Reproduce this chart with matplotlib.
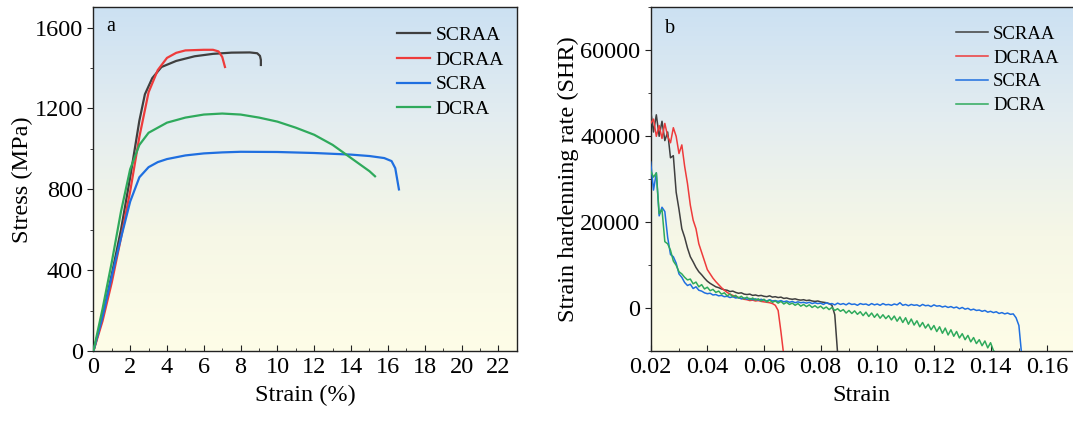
import numpy as np
import matplotlib
matplotlib.use("Agg")
import matplotlib.pyplot as plt
from matplotlib.colors import LinearSegmentedColormap
from matplotlib.ticker import MultipleLocator, AutoMinorLocator, FormatStrFormatter

plt.rcParams["font.family"] = ["Liberation Serif", "DejaVu Serif"]

# ---- panel a: engineering stress-strain curves (strain %, stress MPa) ----
labels = ["SCRAA", "DCRAA", "SCRA", "DCRA"]
colors = ["#3f3f3f", "#ee3b3b", "#1f6fe0", "#2faa5c"]

scraa_strain = [0, 0.5, 1, 1.5, 2, 2.5, 2.8, 3.2, 3.7, 4.5, 5.5, 6.5, 7.5, 8.5, 8.9, 9.05, 9.1, 9.1]
scraa_stress = [0, 170, 380, 600, 860, 1140, 1270, 1350, 1405, 1435, 1458, 1470, 1476, 1477, 1473, 1460, 1440, 1415]

dcraa_strain = [0, 0.5, 1, 1.5, 2, 2.5, 3, 3.5, 4, 4.5, 5, 6, 6.5, 6.8, 7.0, 7.15]
dcraa_stress = [0, 150, 340, 560, 790, 1060, 1280, 1390, 1450, 1475, 1487, 1490, 1490, 1482, 1455, 1405]

scra_strain = [0, 0.5, 1, 1.5, 2, 2.5, 3, 3.5, 4, 5, 6, 7, 8, 10, 12, 14, 15, 15.8, 16.2, 16.4, 16.6]
scra_stress = [0, 170, 370, 560, 740, 860, 910, 935, 950, 968, 978, 983, 986, 985, 980, 972, 965, 955, 940, 905, 800]

dcra_strain = [0, 0.5, 1, 1.5, 2, 2.5, 3, 4, 5, 6, 7, 8, 9, 10, 11, 12, 13, 14, 15, 15.3]
dcra_stress = [0, 210, 440, 690, 900, 1020, 1080, 1130, 1155, 1170, 1175, 1170, 1155, 1135, 1105, 1070, 1020, 955, 890, 865]

# ---- panel b: strain hardening rate vs true strain ----
strain_b = [
    0.020, 0.021, 0.022, 0.023, 0.024, 0.025, 0.026, 0.027, 0.028, 0.029,
    0.030, 0.031, 0.032, 0.033, 0.034, 0.035, 0.036, 0.037, 0.038, 0.039,
    0.040, 0.041, 0.042, 0.043, 0.044, 0.045, 0.046, 0.047, 0.048, 0.049,
    0.050, 0.051, 0.052, 0.053, 0.054, 0.055, 0.056, 0.057, 0.058, 0.059,
    0.060, 0.061, 0.062, 0.063, 0.064, 0.065, 0.066, 0.067, 0.068, 0.069,
    0.070, 0.071, 0.072, 0.073, 0.074, 0.075, 0.076, 0.077, 0.078, 0.079,
    0.080, 0.081, 0.082, 0.083, 0.084, 0.085, 0.086, 0.087, 0.088, 0.089,
    0.090, 0.091, 0.092, 0.093, 0.094, 0.095, 0.096, 0.097, 0.098, 0.099,
    0.100, 0.101, 0.102, 0.103, 0.104, 0.105, 0.106, 0.107, 0.108, 0.109,
    0.110, 0.111, 0.112, 0.113, 0.114, 0.115, 0.116, 0.117, 0.118, 0.119,
    0.120, 0.121, 0.122, 0.123, 0.124, 0.125, 0.126, 0.127, 0.128, 0.129,
    0.130, 0.131, 0.132, 0.133, 0.134, 0.135, 0.136, 0.137, 0.138, 0.139,
    0.140, 0.141, 0.142, 0.143, 0.144, 0.145, 0.146, 0.147, 0.148, 0.149,
    0.150, 0.151,
]

scraa_shr = [
    46000, 41000, 45000, 40000, 43500, 39000, 41000, 35000, 35500, 27000,
    23000, 18500, 16500, 14000, 12000, 10800, 9500, 8500, 7800, 7000,
    6300, 5800, 5400, 5000, 4800, 4500, 4300, 4200, 3900, 4000,
    3700, 3500, 3600, 3300, 3200, 3300, 3000, 3100, 2900, 3000,
    2800, 2700, 2900, 2600, 2700, 2500, 2600, 2300, 2400, 2200,
    2100, 2200, 2000, 1900, 2000, 1800, 1900, 1700, 1600, 1700,
    1500, 1400, 1300, 1100, 700, -1500, -10500,
]

dcraa_shr = [
    43000, 44000, 40000, 42500, 39500, 43000, 40000, 38500, 42000, 40000,
    36000, 38000, 33000, 29000, 24000, 20500, 18500, 15000, 13000, 11000,
    9000, 8000, 7000, 6200, 5500, 4800, 4200, 3700, 3300, 3000,
    2700, 2500, 2300, 2100, 2000, 1800, 1900, 1700, 1800, 1600,
    1500, 1400, 1300, 1100, 700, -500, -5500, -11000,
]

scra_shr = [
    34000, 27500, 31500, 21500, 23500, 22500, 16500, 12500, 12000, 10500,
    8000, 7200, 6000, 5300, 5600, 4600, 5000, 4200, 4000, 3600,
    3400, 3500, 3100, 3200, 2900, 3000, 2700, 2800, 2500, 2700,
    2400, 2500, 2200, 2400, 2100, 2300, 2000, 2200, 1900, 2100,
    1900, 1700, 2000, 1700, 1800, 1600, 1800, 1500, 1700, 1400,
    1600, 1300, 1500, 1300, 1400, 1200, 1400, 1100, 1300, 1100,
    1200, 900, 1300, 1000, 1100, 800, 1200, 900, 1100, 800,
    1200, 900, 1000, 700, 1100, 900, 1000, 700, 1100, 800,
    1000, 700, 1100, 800, 900, 700, 1000, 800, 1300, 700,
    900, 600, 900, 700, 800, 500, 900, 600, 700, 400,
    800, 500, 600, 300, 500, 200, 400, 100, 300, -100,
    200, -200, 0, -400, -200, -500, -400, -700, -500, -900,
    -700, -1000, -800, -1200, -1000, -1300, -1100, -1400, -1300, -2200,
    -4000, -11000,
]

dcra_shr = [
    32000, 30500, 31500, 22000, 23000, 15500, 15000, 13500, 11000, 10000,
    8500, 8000, 7200, 6600, 6800, 5700, 6100, 5000, 5500, 4500,
    4900, 4100, 4400, 3700, 4000, 3300, 3600, 2900, 3300, 2700,
    3000, 2400, 2800, 2200, 2600, 2000, 2400, 1900, 2200, 1700,
    2100, 1500, 1900, 1400, 1700, 1200, 1600, 1000, 1400, 900,
    1200, 700, 1100, 500, 900, 400, 800, 200, 600, 100,
    500, -100, 300, -300, 200, -500, -100, -700, -300, -1100,
    -500, -1200, -600, -1400, -800, -1700, -900, -1900, -1100, -2100,
    -1300, -2300, -1500, -2400, -1700, -2700, -1800, -3000, -2000, -3300,
    -2200, -3700, -2500, -3900, -2900, -4300, -3300, -4600, -3700, -5000,
    -4000, -5400, -4300, -5800, -4600, -6200, -5000, -6500, -5400, -6900,
    -5900, -7300, -6300, -7800, -6800, -8200, -7300, -8700, -7600, -9200,
    -8000, -9800, -10500,
]

bg = LinearSegmentedColormap.from_list(
    "bg", ["#fefde8", "#f6f7e6", "#e4edf0", "#cce1f3"])


def paint_background(ax):
    grad = np.linspace(0, 1, 256).reshape(-1, 1)
    ax.imshow(grad, extent=[0, 1, 0, 1], transform=ax.transAxes,
              origin="lower", aspect="auto", cmap=bg, zorder=0)


def style_axes(ax):
    for sp in ax.spines.values():
        sp.set_color("#222222")
        sp.set_linewidth(1.0)
    ax.tick_params(axis="x", which="both", direction="in", labelsize=17.5,
                   pad=4, color="#222222")
    ax.tick_params(axis="x", which="major", length=4)
    ax.tick_params(axis="x", which="minor", length=2.5)
    ax.tick_params(axis="y", which="both", direction="out", labelsize=17.5,
                   pad=3.5, color="#222222")
    ax.tick_params(axis="y", which="major", length=4)
    ax.tick_params(axis="y", which="minor", length=2)


fig = plt.figure(figsize=(10.73, 4.25), dpi=100)
ax1 = fig.add_axes([0.0870, 0.1734, 0.3946, 0.8094])
ax2 = fig.add_axes([0.6064, 0.1734, 0.3936, 0.8094])

# panel a
paint_background(ax1)
curves_a = [(scraa_strain, scraa_stress), (dcraa_strain, dcraa_stress),
            (scra_strain, scra_stress), (dcra_strain, dcra_stress)]
for (x, y), lab, c in zip(curves_a, labels, colors):
    ax1.plot(x, y, color=c, lw=1.6, label=lab, zorder=3)
ax1.set_xlim(0, 23)
ax1.set_ylim(0, 1700)
ax1.xaxis.set_major_locator(MultipleLocator(2))
ax1.xaxis.set_minor_locator(AutoMinorLocator(2))
ax1.yaxis.set_major_locator(MultipleLocator(400))
ax1.yaxis.set_minor_locator(AutoMinorLocator(2))
style_axes(ax1)
ax1.set_xlabel("Strain (%)", fontsize=17.5, labelpad=5)
ax1.set_ylabel("Stress (MPa)", fontsize=17.5, labelpad=1)
ax1.text(0.03, 0.972, "a", transform=ax1.transAxes, fontsize=14.5,
         va="top", ha="left")
ax1.legend(loc="upper left", bbox_to_anchor=(0.718, 0.945), frameon=False,
           fontsize=14, handlelength=1.67, handletextpad=0.3,
           labelspacing=0.37, borderpad=0, borderaxespad=0)

# panel b
paint_background(ax2)
series_b = [scraa_shr, dcraa_shr, scra_shr, dcra_shr]
for y, lab, c in zip(series_b, labels, colors):
    ax2.plot(strain_b[:len(y)], y, color=c, lw=1.1, label=lab, zorder=3)
ax2.set_xlim(0.02, 0.1691)
ax2.set_ylim(-10000, 70000)
ax2.xaxis.set_major_locator(MultipleLocator(0.02))
ax2.xaxis.set_minor_locator(AutoMinorLocator(2))
ax2.xaxis.set_major_formatter(FormatStrFormatter("%.2f"))
ax2.yaxis.set_major_locator(MultipleLocator(20000))
ax2.yaxis.set_minor_locator(AutoMinorLocator(2))
ax2.yaxis.set_major_formatter(FormatStrFormatter("%d"))
style_axes(ax2)
ax2.spines["right"].set_visible(False)
ax2.set_xlabel("Strain", fontsize=17.5, labelpad=5)
ax2.set_ylabel("Strain hardenning rate (SHR)", fontsize=17.5, labelpad=1)
ax2.text(0.035, 0.967, "b", transform=ax2.transAxes, fontsize=14.5,
         va="top", ha="left")
ax2.legend(loc="upper left", bbox_to_anchor=(0.724, 0.947), frameon=False,
           fontsize=13.5, handlelength=1.67, handletextpad=0.28,
           labelspacing=0.36, borderpad=0, borderaxespad=0)

fig.savefig("out.png", dpi=100)
